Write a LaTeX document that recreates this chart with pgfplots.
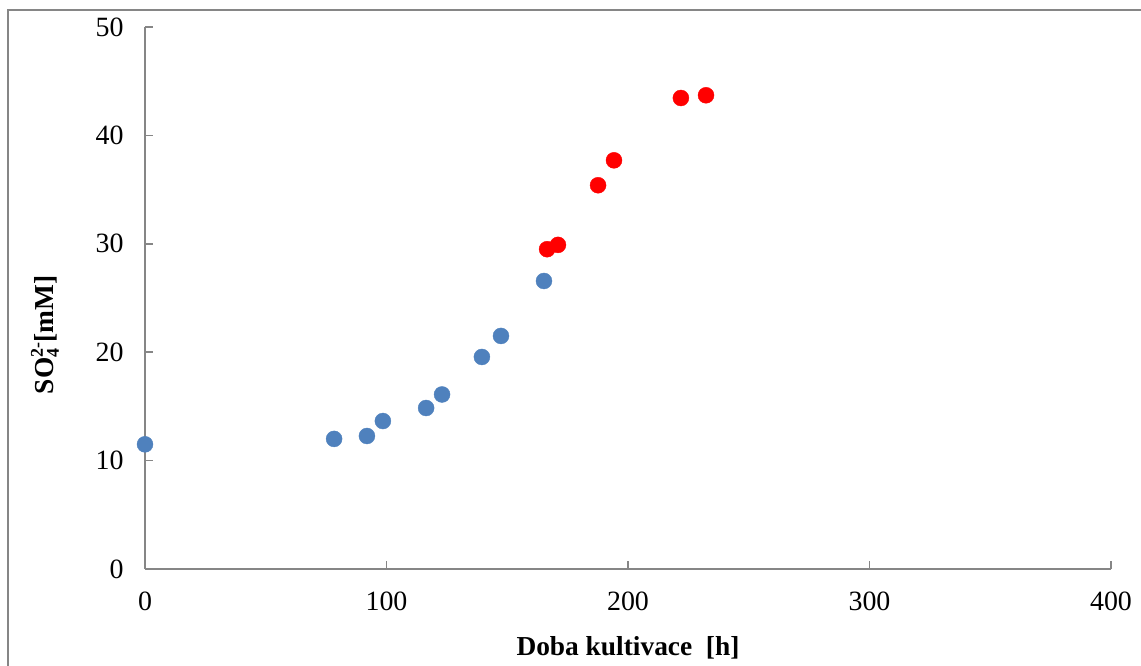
\documentclass[border=0pt]{standalone}
\usepackage{fontspec}
\setmainfont{Liberation Serif}
\usepackage{pgfplots}
\pgfplotsset{compat=1.18}
\definecolor{blu}{RGB}{79,129,189}
\definecolor{axgray}{RGB}{134,134,134}
\newcommand{\sofour}{SO\rlap{\raisebox{-5bp}{\fontsize{18}{18}\selectfont 4}}\raisebox{11bp}{\fontsize{18}{18}\selectfont 2-}[mM]}
\begin{document}
\begin{tikzpicture}[x=1bp,y=1bp]
\path[use as bounding box] (0,0) rectangle (1141,666);
\draw[axgray, line width=2bp] (8,0) -- (8,655.5) -- (1141,655.5);
\begin{axis}[
  at={(145bp,97bp)}, anchor=south west,
  width=966bp, height=542bp, scale only axis,
  xmin=0, xmax=400, ymin=0, ymax=50,
  xtick={0,100,...,400}, ytick={0,10,...,50},
  axis lines*=left,
  tick align=inside, major tick length=8bp,
  axis line style={axgray, line width=1.5bp},
  tick style={axgray, line width=1.5bp},
  /pgf/number format/assume math mode=true,
  ticklabel style={font=\fontsize{28}{30}\selectfont, text=black},
  xticklabel style={yshift=-19bp},
  yticklabel style={xshift=-18bp},
  xlabel={Doba kultivace\ \ [h]},
  ylabel={\sofour},
  label style={font=\fontsize{27.5}{30}\selectfont\bfseries},
  xlabel style={at={(axis description cs:0.5,-0.146)}, anchor=center},
  ylabel style={at={(axis description cs:-0.1035,0.432)}, anchor=center},
  clip=false,
]
\addplot[only marks, mark=*, mark size=8bp, mark options={fill=blu, draw=blu}] coordinates {
(0,11.5) (78.3,12.0) (91.9,12.27) (98.5,13.65) (116.4,14.85) (123,16.1) (139.5,19.56) (147.4,21.5) (165.2,26.57)
};
\addplot[only marks, mark=*, mark size=8bp, mark options={fill=red, draw=red}] coordinates {
(166.5,29.5) (171,29.9) (187.6,35.4) (194.2,37.7) (221.9,43.45) (232.3,43.7)
};
\end{axis}
\end{tikzpicture}
\end{document}
